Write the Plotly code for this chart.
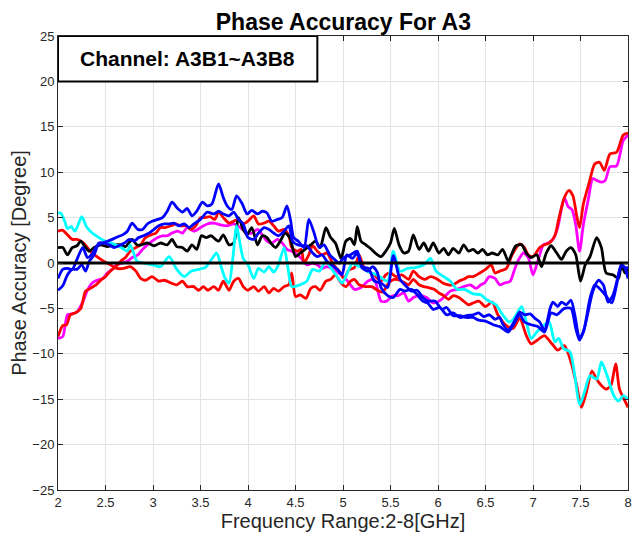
import plotly.graph_objects as go

# ---------------- data ----------------
black_pts = [(2.0,1.7),(2.05,1.7),(2.1,0.9),(2.15,1.7),(2.2,1.9),(2.24,2.4),(2.29,1.7),(2.33,1.3),(2.38,1.7),(2.45,2.0),(2.52,1.8),(2.59,2.0),(2.66,2.0),(2.71,1.8),(2.78,2.6),(2.83,2.0),(2.88,2.0),(2.94,2.2),(3.01,1.9),(3.08,2.2),(3.15,2.0),(3.2,2.6),(3.25,1.8),(3.31,1.7),(3.36,1.3),(3.41,2.0),(3.46,1.5),(3.51,3.0),(3.56,2.8),(3.61,3.0),(3.69,2.4),(3.74,3.1),(3.8,2.0),(3.85,2.2),(3.9,5.0),(3.95,3.7),(3.99,3.1),(4.04,3.9),(4.1,2.0),(4.15,3.0),(4.2,2.8),(4.24,2.2),(4.29,1.7),(4.34,2.4),(4.39,3.3),(4.44,2.8),(4.5,0.7),(4.55,1.1),(4.6,1.5),(4.66,2.0),(4.71,2.4),(4.76,1.7),(4.82,3.9),(4.87,2.8),(4.92,2.2),(4.98,0.5),(5.03,2.4),(5.08,2.7),(5.12,2.0),(5.15,4.0),(5.19,2.4),(5.24,2.0),(5.29,1.6),(5.34,1.1),(5.4,0.7),(5.45,1.3),(5.5,2.2),(5.54,3.8),(5.59,2.0),(5.64,1.1),(5.69,1.3),(5.74,3.1),(5.8,1.5),(5.85,2.2),(5.9,1.3),(5.95,2.2),(6.01,1.1),(6.06,1.6),(6.11,0.9),(6.16,1.6),(6.22,1.1),(6.27,2.0),(6.32,1.3),(6.37,1.5),(6.42,1.1),(6.47,1.5),(6.52,0.9),(6.57,1.1),(6.63,0.9),(6.68,1.5),(6.74,0.2),(6.78,1.1),(6.82,1.9),(6.88,2.0),(6.93,1.1),(6.98,0.6),(7.04,0.9),(7.09,-0.4),(7.14,1.1),(7.19,1.9),(7.25,1.1),(7.3,0.4),(7.35,1.3),(7.4,1.7),(7.45,0.9),(7.5,-2.0),(7.55,-0.2),(7.6,0.7),(7.67,2.8),(7.72,1.7),(7.77,-1.1),(7.84,-1.3),(7.9,-1.7),(7.93,-0.2),(7.97,-1.1),(8.0,-0.6)]

cyan_pts = [(2.0,5.5),(2.03,5.5),(2.07,4.6),(2.1,3.8),(2.14,4.0),(2.18,3.5),(2.25,5.1),(2.3,4.0),(2.36,3.3),(2.43,2.8),(2.5,2.4),(2.56,2.2),(2.63,1.9),(2.68,1.6),(2.73,1.3),(2.76,2.0),(2.8,1.0),(2.83,0.2),(2.9,0.0),(3.0,-0.2),(3.08,-0.4),(3.17,0.7),(3.25,-0.7),(3.33,-1.5),(3.4,-0.9),(3.48,-0.7),(3.55,-0.5),(3.61,0.3),(3.67,1.1),(3.72,-0.5),(3.76,-1.7),(3.8,-2.2),(3.84,0.5),(3.88,4.1),(3.91,2.5),(3.95,0.5),(4.0,-0.2),(4.06,-1.7),(4.11,-0.6),(4.17,-1.0),(4.22,-0.4),(4.27,-1.0),(4.32,-0.2),(4.38,1.7),(4.42,-0.5),(4.46,-2.6),(4.55,-2.4),(4.62,-2.0),(4.68,-0.7),(4.75,-0.9),(4.82,0.2),(4.87,-0.5),(4.94,-1.5),(4.99,-2.2),(5.05,-1.0),(5.1,0.0),(5.15,-0.3),(5.2,-0.5),(5.27,-1.0),(5.33,-1.2),(5.4,-1.6),(5.47,-2.0),(5.53,1.3),(5.6,-0.9),(5.68,-0.6),(5.76,-0.5),(5.85,-0.2),(5.92,0.5),(5.98,-0.9),(6.06,-1.5),(6.13,-2.0),(6.2,-2.9),(6.28,-2.9),(6.37,-3.4),(6.45,-3.5),(6.52,-4.1),(6.61,-4.6),(6.68,-5.7),(6.75,-6.5),(6.8,-6.1),(6.88,-4.8),(6.93,-6.5),(6.98,-8.3),(7.04,-7.6),(7.1,-7.0),(7.17,-6.5),(7.23,-8.7),(7.27,-8.3),(7.32,-9.4),(7.39,-9.8),(7.44,-12.4),(7.49,-15.6),(7.54,-14.3),(7.6,-12.4),(7.67,-12.8),(7.72,-10.9),(7.78,-12.4),(7.85,-14.6),(7.9,-15.2),(7.95,-14.6),(8.0,-15.0)]

red_a_pts = [(2.0,3.5),(2.05,3.6),(2.1,3.1),(2.15,2.6),(2.2,2.6),(2.27,2.2),(2.34,1.3),(2.41,0.7),(2.48,0.2),(2.55,-0.2),(2.62,-0.6),(2.69,-0.6),(2.76,-0.4),(2.82,-0.9),(2.87,-1.7),(2.92,-1.9),(2.99,-1.5),(3.06,-2.0),(3.12,-1.9),(3.19,-2.2),(3.25,-2.4),(3.31,-2.0),(3.36,-2.6),(3.43,-2.6),(3.48,-3.0),(3.53,-2.6),(3.58,-3.0),(3.64,-2.6),(3.69,-3.0),(3.74,-2.0),(3.8,-3.0),(3.85,-2.0),(3.9,-1.7),(3.95,-2.6),(4.0,-3.0),(4.06,-2.6),(4.11,-3.1),(4.17,-2.6),(4.22,-3.3),(4.27,-2.8),(4.32,-3.1),(4.38,-2.6),(4.43,-2.4),(4.46,-1.1),(4.5,-3.7),(4.55,-3.5),(4.61,-3.9),(4.66,-2.8),(4.71,-2.6),(4.76,-3.0),(4.82,-2.0),(4.87,-1.8),(4.92,-1.3),(4.98,-2.2),(5.03,-2.6),(5.08,-2.0),(5.12,-1.8),(5.17,-2.4),(5.24,-2.6),(5.3,-2.6),(5.38,-3.1),(5.42,-3.2),(5.48,-2.2),(5.54,-1.8),(5.6,-1.9),(5.65,-2.2),(5.69,-2.4),(5.74,-1.8),(5.8,-2.4),(5.85,-2.6),(5.9,-2.7),(5.96,-2.9),(6.01,-3.3),(6.06,-3.6),(6.11,-4.0),(6.16,-3.6),(6.22,-3.8),(6.27,-4.2),(6.32,-4.6),(6.37,-4.4),(6.43,-4.2),(6.5,-4.8),(6.57,-4.3),(6.63,-5.7),(6.72,-6.9),(6.79,-7.2),(6.86,-6.1),(6.93,-8.0),(6.98,-8.9),(7.07,-8.3),(7.12,-8.0),(7.2,-8.9),(7.26,-9.6),(7.33,-9.1),(7.4,-10.9),(7.46,-13.5),(7.51,-15.9),(7.56,-14.3),(7.62,-11.9),(7.67,-12.8),(7.72,-13.5),(7.77,-13.9),(7.82,-13.5),(7.87,-11.1),(7.91,-13.9),(7.95,-14.8),(8.0,-15.9)]

red_b_pts = [(2.0,-8.1),(2.05,-6.9),(2.09,-6.8),(2.13,-5.7),(2.18,-5.5),(2.24,-5.0),(2.29,-3.1),(2.34,-2.8),(2.4,-2.4),(2.45,-1.9),(2.5,-1.5),(2.55,-0.9),(2.61,-0.4),(2.66,0.2),(2.71,0.6),(2.76,1.3),(2.82,1.7),(2.87,2.0),(2.92,2.8),(2.98,3.1),(3.03,3.3),(3.08,3.9),(3.13,3.9),(3.19,4.1),(3.24,4.3),(3.29,4.1),(3.35,4.1),(3.4,3.7),(3.45,4.1),(3.5,5.0),(3.55,5.0),(3.6,5.1),(3.65,4.8),(3.69,5.6),(3.74,5.0),(3.8,4.4),(3.85,4.6),(3.9,4.8),(3.95,4.3),(4.0,4.6),(4.06,5.2),(4.11,4.3),(4.17,4.4),(4.22,4.6),(4.27,4.1),(4.32,3.5),(4.38,3.7),(4.43,3.0),(4.46,1.7),(4.52,1.3),(4.56,1.5),(4.59,0.0),(4.64,0.9),(4.68,1.9),(4.73,1.3),(4.78,0.9),(4.83,1.1),(4.9,-0.2),(4.96,-0.9),(5.01,-1.7),(5.06,-0.8),(5.12,-0.5),(5.17,0.9),(5.22,-0.5),(5.28,-1.0),(5.33,-1.3),(5.4,-2.0),(5.45,-1.3),(5.5,-1.1),(5.56,-1.5),(5.62,-1.3),(5.69,-1.8),(5.74,-0.9),(5.8,-1.5),(5.86,-1.8),(5.92,-1.5),(5.98,-1.7),(6.05,-2.2),(6.11,-2.4),(6.16,-2.4),(6.22,-2.0),(6.27,-1.8),(6.32,-1.5),(6.37,-1.5),(6.44,-1.1),(6.5,-0.7),(6.56,-0.2),(6.6,-1.1),(6.65,-0.9),(6.72,-0.6),(6.78,0.9),(6.86,2.1),(6.91,1.7),(6.95,0.9),(7.0,0.7),(7.07,1.7),(7.12,2.0),(7.17,2.2),(7.23,3.0),(7.27,4.8),(7.33,7.2),(7.38,8.0),(7.42,7.4),(7.46,5.2),(7.49,3.9),(7.53,6.5),(7.59,8.8),(7.65,10.9),(7.7,11.1),(7.75,10.2),(7.81,12.0),(7.88,12.2),(7.95,14.1),(8.0,14.3)]

magenta_pts = [(2.0,-8.3),(2.05,-8.1),(2.1,-5.7),(2.15,-5.6),(2.2,-5.4),(2.26,-4.3),(2.31,-3.0),(2.36,-2.2),(2.41,-1.9),(2.47,-1.7),(2.52,-1.1),(2.57,-0.7),(2.62,-0.2),(2.68,0.0),(2.73,0.2),(2.78,0.6),(2.84,0.9),(2.89,1.5),(2.94,2.0),(2.99,2.4),(3.05,2.8),(3.1,3.0),(3.15,3.0),(3.2,3.3),(3.26,3.5),(3.31,3.3),(3.36,3.9),(3.43,3.5),(3.5,3.9),(3.57,4.3),(3.64,4.4),(3.71,4.2),(3.78,4.1),(3.85,4.3),(3.92,3.9),(3.99,3.3),(4.04,3.3),(4.1,3.7),(4.15,3.1),(4.2,2.4),(4.25,2.2),(4.31,2.6),(4.36,2.2),(4.41,1.5),(4.46,1.3),(4.52,0.9),(4.57,0.4),(4.62,-0.2),(4.68,0.0),(4.73,-0.2),(4.78,-0.6),(4.83,-0.4),(4.9,-0.7),(4.98,-1.3),(5.05,-2.0),(5.12,-2.9),(5.19,-2.7),(5.26,-2.0),(5.33,-1.8),(5.4,-4.2),(5.46,-4.2),(5.52,-3.6),(5.58,-3.6),(5.64,-3.3),(5.69,-4.2),(5.74,-3.8),(5.81,-3.6),(5.88,-3.8),(5.95,-4.4),(6.01,-4.2),(6.08,-3.6),(6.13,-3.1),(6.2,-2.9),(6.27,-2.6),(6.34,-2.4),(6.4,-2.8),(6.45,-2.4),(6.49,-2.2),(6.54,-1.5),(6.6,-1.7),(6.65,-2.4),(6.7,-2.2),(6.76,-2.0),(6.8,-0.9),(6.84,0.2),(6.9,1.1),(6.95,0.6),(7.0,-1.3),(7.05,0.2),(7.11,2.0),(7.16,2.2),(7.21,2.6),(7.26,3.9),(7.33,7.2),(7.37,6.2),(7.41,5.9),(7.45,4.2),(7.49,1.3),(7.53,4.2),(7.58,6.9),(7.63,9.3),(7.67,9.1),(7.72,8.9),(7.76,9.1),(7.81,10.6),(7.88,10.7),(7.95,13.5),(8.0,14.1)]

blue_a_pts = [(2.0,-1.7),(2.05,-0.7),(2.1,-0.6),(2.15,-0.7),(2.2,0.4),(2.26,1.7),(2.31,0.6),(2.36,1.0),(2.41,1.9),(2.47,2.2),(2.52,2.4),(2.57,2.6),(2.63,2.9),(2.68,3.1),(2.73,3.5),(2.78,4.4),(2.84,3.7),(2.89,3.7),(2.94,4.3),(2.99,4.6),(3.05,4.8),(3.1,5.0),(3.15,5.7),(3.2,6.7),(3.26,6.0),(3.31,5.6),(3.36,6.0),(3.41,5.2),(3.46,5.7),(3.52,6.7),(3.57,6.3),(3.62,6.5),(3.69,8.7),(3.74,7.2),(3.78,6.3),(3.83,5.9),(3.88,7.4),(3.94,6.5),(3.99,5.4),(4.04,5.8),(4.1,5.4),(4.15,5.7),(4.2,5.5),(4.25,4.6),(4.31,4.8),(4.36,5.0),(4.41,6.3),(4.45,4.6),(4.48,2.8),(4.53,2.4),(4.59,1.7),(4.64,4.8),(4.69,3.5),(4.75,1.7),(4.8,2.0),(4.86,0.9),(4.91,0.4),(4.96,0.0),(5.01,0.6),(5.08,0.9),(5.15,1.3),(5.2,-0.5),(5.26,-0.9),(5.31,-0.4),(5.36,-1.0),(5.4,-2.7),(5.47,-3.6),(5.53,-3.8),(5.6,-2.9),(5.65,-3.1),(5.72,-2.9),(5.79,-3.6),(5.84,-4.2),(5.89,-4.4),(5.95,-5.1),(6.02,-4.9),(6.09,-5.7),(6.16,-5.5),(6.23,-6.0),(6.3,-5.8),(6.37,-5.7),(6.43,-5.5),(6.48,-5.9),(6.54,-5.7),(6.6,-6.2),(6.65,-6.0),(6.68,-6.7),(6.74,-7.4),(6.8,-6.5),(6.86,-5.4),(6.91,-5.7),(6.97,-5.6),(7.02,-6.1),(7.07,-6.5),(7.12,-7.4),(7.18,-5.0),(7.21,-4.3),(7.26,-4.8),(7.3,-4.3),(7.35,-4.6),(7.4,-4.1),(7.44,-5.7),(7.49,-8.3),(7.53,-7.6),(7.58,-5.4),(7.63,-3.1),(7.69,-1.9),(7.74,-2.4),(7.79,-4.3),(7.84,-3.6),(7.9,-1.3),(7.93,-0.2),(7.97,-0.6),(8.0,-1.7)]

blue_b_pts = [(2.0,-3.0),(2.05,-2.5),(2.1,-1.3),(2.15,-0.7),(2.2,-0.7),(2.25,-0.2),(2.29,-0.9),(2.33,0.2),(2.38,0.9),(2.43,2.2),(2.48,2.2),(2.54,2.0),(2.59,1.7),(2.64,1.9),(2.7,2.2),(2.75,2.6),(2.8,2.4),(2.85,2.8),(2.9,3.0),(2.96,3.3),(3.01,3.7),(3.06,4.1),(3.12,4.3),(3.17,4.3),(3.22,4.4),(3.27,4.1),(3.33,4.3),(3.38,3.9),(3.43,4.3),(3.5,4.8),(3.57,5.6),(3.64,5.4),(3.69,5.7),(3.74,5.4),(3.8,5.2),(3.85,5.6),(3.9,4.8),(3.95,4.3),(4.0,2.8),(4.06,2.6),(4.11,3.3),(4.17,3.9),(4.22,3.7),(4.27,3.3),(4.32,3.0),(4.38,3.5),(4.43,4.1),(4.47,2.4),(4.52,2.0),(4.57,1.9),(4.62,1.9),(4.68,1.1),(4.73,0.7),(4.78,0.9),(4.83,0.2),(4.88,-0.2),(4.94,-0.7),(4.99,-1.3),(5.04,0.9),(5.1,0.5),(5.15,1.1),(5.2,-0.4),(5.27,-0.6),(5.33,-2.0),(5.4,-2.2),(5.47,-2.7),(5.53,0.8),(5.6,-1.8),(5.66,-2.5),(5.72,-3.1),(5.78,-3.0),(5.84,-3.8),(5.9,-4.2),(5.97,-4.2),(6.04,-5.1),(6.09,-4.9),(6.16,-5.8),(6.23,-5.8),(6.3,-6.0),(6.37,-6.0),(6.43,-6.3),(6.5,-6.4),(6.58,-6.8),(6.65,-7.0),(6.74,-7.6),(6.86,-5.7),(6.91,-6.5),(6.98,-6.8),(7.05,-7.0),(7.12,-7.6),(7.19,-5.5),(7.25,-5.7),(7.33,-5.0),(7.4,-5.0),(7.45,-7.2),(7.49,-8.5),(7.54,-7.2),(7.6,-3.9),(7.65,-2.4),(7.7,-2.8),(7.76,-3.5),(7.83,-4.4),(7.88,-2.4),(7.93,-0.2),(7.98,-0.6),(8.0,-0.4)]

ref_x = [2, 8]
ref_y = [0, 0]

x_ticks = [2, 2.5, 3, 3.5, 4, 4.5, 5, 5.5, 6, 6.5, 7, 7.5, 8]
x_tick_labels = ["2", "2.5", "3", "3.5", "4", "4.5", "5", "5.5", "6", "6.5", "7", "7.5", "8"]
y_ticks = [-25, -20, -15, -10, -5, 0, 5, 10, 15, 20, 25]

title_text = "Phase Accuracy For A3"
box_text = "Channel: A3B1~A3B8"
x_title = "Frequency Range:2-8[GHz]"
y_title = "Phase Accuracy [Degree]"

# ---------------- figure ----------------
series = [
    (magenta_pts, "#ff00ff"),
    (red_b_pts, "#ff0000"),
    (red_a_pts, "#ff0000"),
    (black_pts, "#000000"),
    (cyan_pts, "#00ffff"),
    (blue_a_pts, "#0000ff"),
    (blue_b_pts, "#0000ff"),
]

fig = go.Figure()
for pts, col in series:
    xs = [p[0] for p in pts]
    ys = [p[1] for p in pts]
    fig.add_trace(go.Scatter(x=xs, y=ys, mode="lines",
                             line=dict(color=col, width=2.8, shape="spline", smoothing=0.7),
                             hoverinfo="skip", showlegend=False))

fig.add_trace(go.Scatter(x=ref_x, y=ref_y, mode="lines",
                         line=dict(color="#000000", width=3),
                         hoverinfo="skip", showlegend=False))

FONT = "Liberation Sans, Arial, Helvetica, sans-serif"
axis_common = dict(
    showgrid=True, gridcolor="#e3e3e3", gridwidth=1,
    showline=True, linecolor="#262626", linewidth=1, mirror="ticks",
    ticks="inside", ticklen=5, tickcolor="#262626", tickwidth=1,
    zeroline=False, automargin=False,
    tickfont=dict(family=FONT, size=13, color="#262626"),
)

fig.update_xaxes(range=[2, 8], tickvals=x_ticks, ticktext=x_tick_labels,
                 title=dict(text=x_title, font=dict(family=FONT, size=20, color="#262626"), standoff=4),
                 **axis_common)
fig.update_yaxes(range=[-25, 25], tickvals=y_ticks,
                 title=dict(text=y_title, font=dict(family=FONT, size=20, color="#262626"), standoff=0),
                 **axis_common)

# annotation box
fig.add_shape(type="rect", xref="x", yref="y", x0=2, x1=4.73, y0=20, y1=25,
              line=dict(color="#000000", width=2), fillcolor="#ffffff", layer="above")
fig.add_annotation(x=3.365, y=22.5, xref="x", yref="y", text="<b>" + box_text + "</b>",
                   showarrow=False, font=dict(family=FONT, size=21, color="#000000"))

fig.update_layout(
    width=633, height=540,
    margin=dict(l=58, r=5, t=36, b=50),
    paper_bgcolor="#ffffff", plot_bgcolor="#ffffff",
    title=dict(text="<b>" + title_text + "</b>", x=0.5425, xanchor="center",
               y=0.959, yanchor="middle",
               font=dict(family=FONT, size=23, color="#000000")),
    showlegend=False,
)

fig.write_html("out.html", config={"displayModeBar": False},
               post_script="document.body.style.margin='0';document.body.style.overflow='hidden';")
